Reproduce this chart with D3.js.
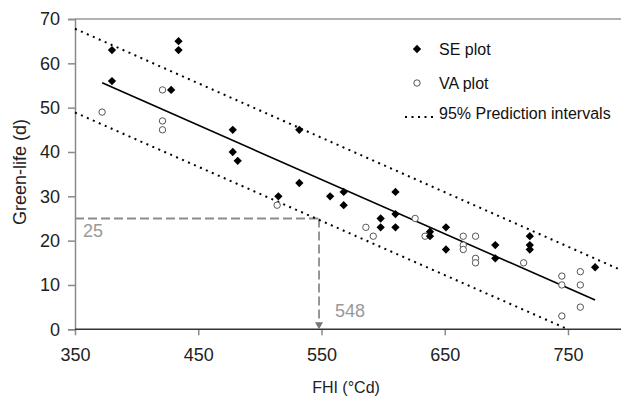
<!DOCTYPE html>
<html>
<head>
<meta charset="utf-8">
<script src="https://cdn.jsdelivr.net/npm/d3@7"></script>
<style>
	body { margin: 0; background: #fff; }
	svg { display: block; font-family: "Liberation Sans", Arial, sans-serif; }
</style>
</head>
<body>
<div id="chart"></div>
<script>
// SE plot (filled diamonds): FHI, green-life
const seFHI = [380, 380, 434, 434, 428, 478, 478, 482, 532, 532, 515, 557, 568, 568, 610, 598, 598, 610, 610, 638, 638, 651, 651, 691, 691, 719, 719, 719, 772];
const seLife = [63, 56, 65, 63, 54, 45, 40, 38, 45, 33, 30, 30, 31, 28, 31, 25, 23, 26, 23, 22, 21, 23, 18, 19, 16, 21, 19, 18, 14];

// VA plot (open circles)
const vaFHI = [372, 421, 421, 421, 514, 586, 592, 626, 634, 665, 665, 665, 675, 675, 675, 714, 745, 745, 745, 760, 760, 760];
const vaLife = [49, 54, 47, 45, 28, 23, 21, 25, 21, 21, 19, 18, 21, 16, 15, 15, 12, 10, 3, 13, 10, 5];

// regression line and 95% prediction intervals (end points)
const regLine = [[372, 55.6], [772, 6.6]];
const upperPI = [[350, 67.8], [800, 12.5]];
const lowerPI = [[350, 48.9], [750, 0]];

// reading off the fit
const refFHI = 548;
const refLife = 25;

const xTicks = [350, 450, 550, 650, 750];
const yTicks = [0, 10, 20, 30, 40, 50, 60, 70];

const width = 621;
const height = 399;

const svg = d3.select("#chart").append("svg").attr("width", width).attr("height", height);

const x = d3.scaleLinear().domain([350, 800]).range([75, 75 + 450 * 1.2325]);
const y = d3.scaleLinear().domain([0, 70]).range([329.3, 19]);

// top frame line
svg.append("line").attr("x1", x(350)).attr("x2", width).attr("y1", y(70)).attr("y2", y(70)).style("stroke", "#999").style("stroke-width", 1.5);

// y axis
const yAxis = svg.append("g").attr("transform", `translate(${x(350)},0)`).call(d3.axisLeft(y).tickValues(yTicks).tickSize(7).tickPadding(8));
yAxis.select(".domain").style("stroke", "#8a8a8a").style("stroke-width", 1.5);
yAxis.selectAll(".tick line").style("stroke", "#8a8a8a").style("stroke-width", 1.5);
yAxis.selectAll("text").style("font-size", "18px").style("fill", "#222").style("font-family", "Liberation Sans, Arial, sans-serif");

// x axis
const xAxis = svg.append("g").attr("transform", `translate(0,${y(0)})`).call(d3.axisBottom(x).tickValues(xTicks).tickSize(6).tickPadding(13));
xAxis.select(".domain").remove();
svg.append("line").attr("x1", x(350)).attr("x2", width).attr("y1", y(0)).attr("y2", y(0)).style("stroke", "#333").style("stroke-width", 1.5);
xAxis.selectAll(".tick line").style("stroke", "#8a8a8a").style("stroke-width", 1.5);
xAxis.selectAll("text").style("font-size", "18px").style("fill", "#222").style("font-family", "Liberation Sans, Arial, sans-serif");

// axis titles
svg.append("text").attr("x", 346).attr("y", 393).attr("text-anchor", "middle").style("font-size", "16px").style("fill", "#222").text("FHI (°Cd)");
svg.append("text").attr("transform", "translate(26,172) rotate(-90)").attr("text-anchor", "middle").style("font-size", "18px").style("fill", "#222").text("Green-life (d)");

// gray dashed guide lines
const guide = svg.append("g").style("stroke", "#8c8c8c").style("stroke-width", 1.8).style("stroke-dasharray", "9,4").style("fill", "none");
guide.append("line").attr("x1", x(350)).attr("x2", x(refFHI)).attr("y1", y(refLife)).attr("y2", y(refLife));
guide.append("line").attr("x1", x(refFHI)).attr("x2", x(refFHI)).attr("y1", y(refLife)).attr("y2", y(0) - 6);
svg.append("path")
	.attr("d", `M${x(refFHI) - 4},${y(0) - 7}L${x(refFHI) + 4},${y(0) - 7}L${x(refFHI)},${y(0)}Z`)
	.style("fill", "#777");
svg.append("text").attr("x", 83).attr("y", 237).style("font-size", "18px").style("fill", "#999").text(refLife);
svg.append("text").attr("x", 335).attr("y", 317).style("font-size", "18px").style("fill", "#999").text(refFHI);

// lines
const line = d3.line().x((d) => x(d[0])).y((d) => y(d[1]));
svg.append("path").datum(upperPI).attr("d", line).style("fill", "none").style("stroke", "#000").style("stroke-width", 2).style("stroke-dasharray", "2,4.5");
svg.append("path").datum(lowerPI).attr("d", line).style("fill", "none").style("stroke", "#000").style("stroke-width", 2).style("stroke-dasharray", "2,4.5");
svg.append("path").datum(regLine).attr("d", line).style("fill", "none").style("stroke", "#000").style("stroke-width", 1.6);

// points
const diamond = d3.symbol().type(d3.symbolDiamond2).size(44);
const se = seFHI.map((v, i) => ({ fhi: v, life: seLife[i] }));
const va = vaFHI.map((v, i) => ({ fhi: v, life: vaLife[i] }));

svg
	.selectAll(".va")
	.data(va)
	.join("circle")
	.attr("class", "va")
	.attr("cx", (d) => x(d.fhi))
	.attr("cy", (d) => y(d.life))
	.attr("r", 3.2)
	.style("fill", "#fff")
	.style("stroke", "#555")
	.style("stroke-width", 1);

svg
	.selectAll(".se")
	.data(se)
	.join("path")
	.attr("class", "se")
	.attr("d", diamond)
	.attr("transform", (d) => `translate(${x(d.fhi)},${y(d.life)})`)
	.style("fill", "#000");

// legend
const legend = svg.append("g").style("font-size", "16px").style("fill", "#111");
legend.append("path").attr("d", diamond).attr("transform", "translate(417,49)").style("fill", "#000");
legend.append("circle").attr("cx", 417).attr("cy", 83).attr("r", 3.2).style("fill", "#fff").style("stroke", "#555");
legend.append("line").attr("x1", 405).attr("x2", 433).attr("y1", 117).attr("y2", 117).style("stroke", "#000").style("stroke-width", 2).style("stroke-dasharray", "2,4.5");
legend.append("text").attr("x", 439).attr("y", 55).text("SE plot");
legend.append("text").attr("x", 439).attr("y", 89).text("VA plot");
legend.append("text").attr("x", 439).attr("y", 119).text("95% Prediction intervals");
</script>
</body>
</html>
